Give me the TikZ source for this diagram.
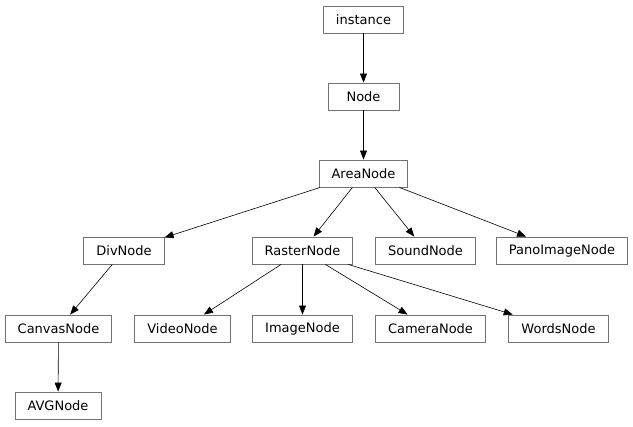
\documentclass[tikz,border=0pt]{standalone}
\usepackage{fontspec}
\setmainfont{DejaVu Sans}
\usetikzlibrary{arrows.meta}
\tikzset{cls/.style={draw=black!55, line width=0.9pt, inner xsep=12.5pt, inner ysep=0pt,
  minimum width=71pt, minimum height=27pt, font=\fontsize{13}{15}\selectfont}}

\begin{document}
\begin{tikzpicture}[x=1pt, y=-1pt, >={Triangle[length=9pt,width=7pt]}]
\useasboundingbox (0,0) rectangle (633,427);
% class boxes
\node[cls] (instance) at (363.5,19.5) {instance};
\node[cls] (node) at (363.5,96.5) {Node};
\node[cls] (area) at (363.5,173.5) {AreaNode};
\node[cls] (div) at (124,250.5) {DivNode};
\node[cls] (raster) at (302.5,250.5) {RasterNode};
\node[cls] (sound) at (425.5,250.5) {SoundNode};
\node[cls] (pano) at (562,250.5) {PanoImageNode};
\node[cls] (canvas) at (58.5,328.5) {CanvasNode};
\node[cls] (video) at (182.5,328.5) {VideoNode};
\node[cls] (image) at (302.5,328.5) {ImageNode};
\node[cls] (camera) at (430.5,328.5) {CameraNode};
\node[cls] (words) at (558.5,328.5) {WordsNode};
\node[cls] (avg) at (58,405.5) {AVGNode};
% inheritance edges
\foreach \a/\b in {instance/node, node/area, area/div, area/raster, area/sound, area/pano,
  div/canvas, raster/video, raster/image, raster/camera, raster/words, canvas/avg} {
 \draw[black, line width=0.6pt, ->] (\a) -- (\b);
}
\end{tikzpicture}
\end{document}
